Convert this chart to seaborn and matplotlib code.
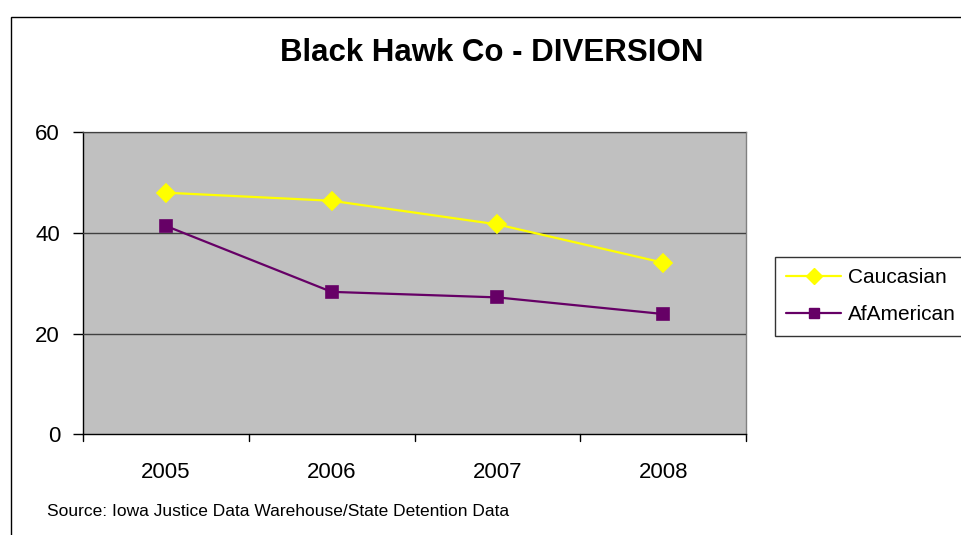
import matplotlib
matplotlib.use("Agg")
import matplotlib.pyplot as plt
import matplotlib.patches as mpatches
from matplotlib.lines import Line2D
import seaborn as sns
import pandas as pd

# Data
years = ["2005", "2006", "2007", "2008"]
caucasian = [48.0, 46.4, 41.7, 34.1]
af_american = [41.4, 28.3, 27.2, 23.9]
series_names = ["Caucasian", "AfAmerican"]
y_ticks = [0, 20, 40, 60]

sns.set_theme(style="white")
plt.rcParams["font.family"] = ["Liberation Sans", "DejaVu Sans"]
plt.rcParams["text.color"] = "black"
plt.rcParams["xtick.labelcolor"] = "black"
plt.rcParams["ytick.labelcolor"] = "black"

df = pd.DataFrame({
    "Year": years * 2,
    "Value": caucasian + af_american,
    "Group": [series_names[0]] * len(years) + [series_names[1]] * len(years),
})

colors = {"Caucasian": "#FFFF00", "AfAmerican": "#660066"}

W, H = 961, 535
fig = plt.figure(figsize=(W / 100, H / 100), dpi=100)
fig.patch.set_facecolor("white")

# outer chart frame (runs past the right and bottom edges)
fig.patches.append(mpatches.Rectangle((11 / W, -0.3), 1.5, 1.3 - 17 / H,
                                      transform=fig.transFigure, fill=False,
                                      edgecolor="black", linewidth=1.0, zorder=0))

ax = fig.add_axes([83 / W, 1 - 434.3 / H, (746 - 83) / W, (434.3 - 132.3) / H])
ax.set_facecolor("#C0C0C0")

for yv in y_ticks[1:]:
    ax.axhline(yv, color="#404040", linewidth=1.0, zorder=1)

sns.pointplot(data=df, x="Year", y="Value", hue="Group", order=years,
              hue_order=series_names, palette=colors, markers=["D", "s"],
              linestyles=["-", "-"], markersize=9, linewidth=1.6,
              errorbar=None, legend=False, ax=ax)
for art in list(ax.collections) + list(ax.lines):
    art.set_zorder(3)

ax.set_xlim(-0.5, 3.5)
ax.set_ylim(0, 60)
ax.set_yticks(y_ticks)
ax.set_yticklabels([str(v) for v in y_ticks], fontsize=16, color="black")
ax.set_xticks(range(len(years)))
ax.set_xticklabels(years, fontsize=16, color="black")
ax.tick_params(axis="x", length=0, pad=20)
ax.tick_params(axis="y", length=7.5, width=1, color="black", direction="out",
               pad=9, left=True)
# tick marks on the category boundaries
for xb in [-0.5, 0.5, 1.5, 2.5, 3.5]:
    ax.plot([xb, xb], [0, -0.022], transform=ax.get_xaxis_transform(),
            color="black", linewidth=1, clip_on=False)
ax.set_xlabel("")
ax.set_ylabel("")

for side in ["top", "right"]:
    ax.spines[side].set_color("#808080")
    ax.spines[side].set_linewidth(1)
for side in ["left", "bottom"]:
    ax.spines[side].set_color("black")
    ax.spines[side].set_linewidth(1)

fig.text(492 / W, 1 - 53 / H, "Black Hawk Co - DIVERSION", ha="center", va="center",
         fontsize=22.5, fontweight="bold", color="black")

fig.text(47 / W, 1 - 512 / H, "Source: Iowa Justice Data Warehouse/State Detention Data",
         ha="left", va="center", fontsize=12.5, color="black")

handles = [
    Line2D([0], [0], color=colors["Caucasian"], marker="D", markersize=8, linewidth=1.6),
    Line2D([0], [0], color=colors["AfAmerican"], marker="s", markersize=7, linewidth=1.6),
]
leg = fig.legend(handles, series_names, loc="upper left",
                 bbox_to_anchor=(775 / W, 1 - 257 / H), frameon=True,
                 fontsize=15, handlelength=2.6, handletextpad=0.35,
                 borderpad=0.55, labelspacing=0.85, fancybox=False, borderaxespad=0)
leg.get_frame().set_edgecolor("black")
leg.get_frame().set_linewidth(1)
for t in leg.get_texts():
    t.set_color("black")

fig.savefig("out.png", dpi=100)
